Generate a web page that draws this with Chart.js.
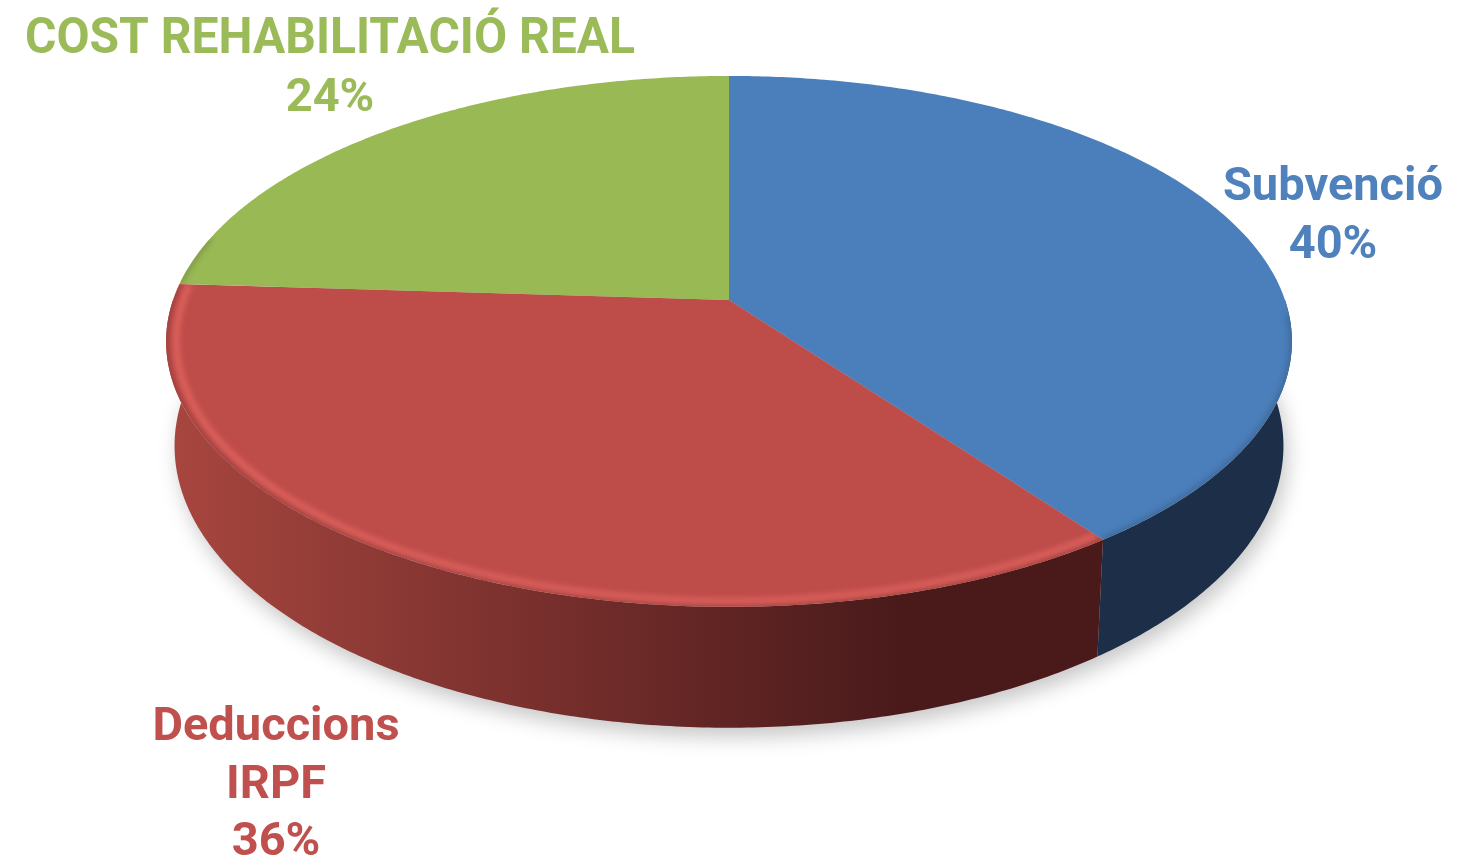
<!DOCTYPE html>
<html>
<head>
<meta charset="utf-8">
<script src="https://cdn.jsdelivr.net/npm/chart.js@4.4.0/dist/chart.umd.min.js"></script>
<style>
	html, body { margin: 0; padding: 0; background: #fff; overflow: hidden; }
	canvas { display: block; }
</style>
</head>
<body>
<canvas id="pie" width="1457" height="859"></canvas>
<script>
/* 3D pie — cost breakdown */

// ── Data ─────────────────────────────────────────────────────────────────
var labels     = ['Subvenció', 'Deduccions IRPF', 'COST REHABILITACIÓ REAL'];
var labelLines = [['Subvenció'], ['Deduccions', 'IRPF'], ['COST REHABILITACIÓ REAL']];
var values     = [40, 36, 24];

// ── Styles ───────────────────────────────────────────────────────────────
var topColors  = ['#4b7fbb', '#be4c49', '#99b955'];
var sideColors = [['#22385a', '#1c2e48'], ['#a8463f', '#4a1a1b'], ['#6f8a3c', '#5a7030']];
var rimLight   = ['rgba(120,160,220,0.0)', 'rgba(240,110,105,0.85)', 'rgba(190,220,130,0.0)'];
var textColors = ['#4f81bd', '#c0504d', '#9bbb59'];

// label anchor (centre x, first baseline), first-line font size and max width
var labelPos = [
	{ x: 1333, y: 200, size: 47, w: 0 },
	{ x: 276,  y: 740, size: 47, w: 0 },
	{ x: 330,  y: 53,  size: 50, w: 610 }
];
var LINE_H = 57.5;

// perspective of the disc, relative to the pie radius chart.js gives us
var TILT = 0.156, SX = 556 / 300, SY = 259 / 300, DEPTH = 102 / 300, BOT_SCALE = 0.985;

function proj(arc, ang, bottom, inset) {
	var u = Math.cos(ang), v = Math.sin(ang);
	var w = 1 - TILT * v;
	var r = arc.outerRadius * (inset || 1);
	var x = r * SX * u / w, y = r * SY * v / w;
	if (bottom) { x *= BOT_SCALE; y += arc.outerRadius * DEPTH / w; }
	return { x: arc.x + x, y: arc.y + y };
}

function rimPath(ctx, arc, a0, a1, bottom, inset, move) {
	var n = Math.max(2, Math.ceil(Math.abs(a1 - a0) / 0.01));
	for (var i = 0; i <= n; i++) {
		var p = proj(arc, a0 + (a1 - a0) * i / n, bottom, inset);
		if (i === 0 && move) ctx.moveTo(p.x, p.y); else ctx.lineTo(p.x, p.y);
	}
}

var pie3d = {
	id: 'pie3d',
	beforeDatasetsDraw: function (chart) {
		var ctx  = chart.ctx;
		var arcs = chart.getDatasetMeta(0).data;
		var a    = arcs[0];

		// soft shadow under the disc
		ctx.save();
		ctx.filter = 'blur(10px)';
		ctx.fillStyle = 'rgba(0,0,0,0.22)';
		ctx.translate(4, 9);
		ctx.beginPath();
		rimPath(ctx, a, 0, Math.PI * 2, true, 1, true);
		ctx.closePath();
		ctx.fill();
		ctx.restore();

		// side walls (front half only)
		arcs.forEach(function (arc, i) {
			var s = Math.max(arc.startAngle, 0), e = Math.min(arc.endAngle, Math.PI);
			if (e <= s) return;
			var g = ctx.createLinearGradient(a.x - 560, 0, a.x + 560, 0);
			g.addColorStop(0, sideColors[i][0]);
			g.addColorStop(0.65, sideColors[i][1]);
			g.addColorStop(1, sideColors[i][1]);
			ctx.save();
			ctx.fillStyle = g;
			ctx.beginPath();
			rimPath(ctx, arc, s, e, false, 1, true);
			rimPath(ctx, arc, e, s, true, 1, false);
			ctx.closePath();
			ctx.fill();
			ctx.restore();
		});

		// top faces
		arcs.forEach(function (arc, i) {
			ctx.save();
			ctx.fillStyle = topColors[i];
			ctx.beginPath();
			ctx.moveTo(arc.x, arc.y);
			rimPath(ctx, arc, arc.startAngle, arc.endAngle, false, 1, false);
			ctx.closePath();
			ctx.fill();

			// bevel: light band inside the front rim, dark edge
			ctx.clip();
			var s = Math.max(arc.startAngle, 0.05), e = Math.min(arc.endAngle, Math.PI + 0.25);
			if (e > s) {
				ctx.filter = 'blur(3px)';
				ctx.strokeStyle = 'rgba(0,0,0,0.25)';
				ctx.lineWidth = 4;
				ctx.beginPath();
				rimPath(ctx, arc, s, e, false, 1, true);
				ctx.stroke();
				ctx.strokeStyle = rimLight[i];
				ctx.lineWidth = 5;
				ctx.beginPath();
				rimPath(ctx, arc, s, e, false, 0.982, true);
				ctx.stroke();
			}
			ctx.restore();
		});
		return false;
	}
};

var labelPlugin = {
	id: 'sliceLabels',
	afterDraw: function (chart) {
		var ctx   = chart.ctx;
		var total = values.reduce(function (s, v) { return s + v; }, 0);
		ctx.save();
		ctx.textAlign = 'center';
		ctx.textBaseline = 'alphabetic';
		labelLines.forEach(function (lines, i) {
			var p   = labelPos[i];
			var all = lines.concat([Math.round(values[i] / total * 100) + '%']);
			ctx.fillStyle = textColors[i];
			all.forEach(function (t, j) {
				ctx.font = 'bold ' + (j === 0 ? p.size : 47) + 'px Roboto, "Noto Sans", sans-serif';
				if (p.w && j === 0) ctx.fillText(t, p.x, p.y + j * LINE_H, p.w);
				else ctx.fillText(t, p.x, p.y + j * LINE_H);
			});
		});
		ctx.restore();
	}
};

new Chart(document.getElementById('pie'), {
	type: 'pie',
	data: {
		labels: labels,
		datasets: [{ data: values, backgroundColor: topColors, borderWidth: 0 }]
	},
	options: {
		responsive: false,
		animation: false,
		layout: { padding: { left: 1, right: 0, top: 0, bottom: 259 } },
		plugins: { legend: { display: false }, tooltip: { enabled: false } }
	},
	plugins: [pie3d, labelPlugin]
});
</script>
</body>
</html>
